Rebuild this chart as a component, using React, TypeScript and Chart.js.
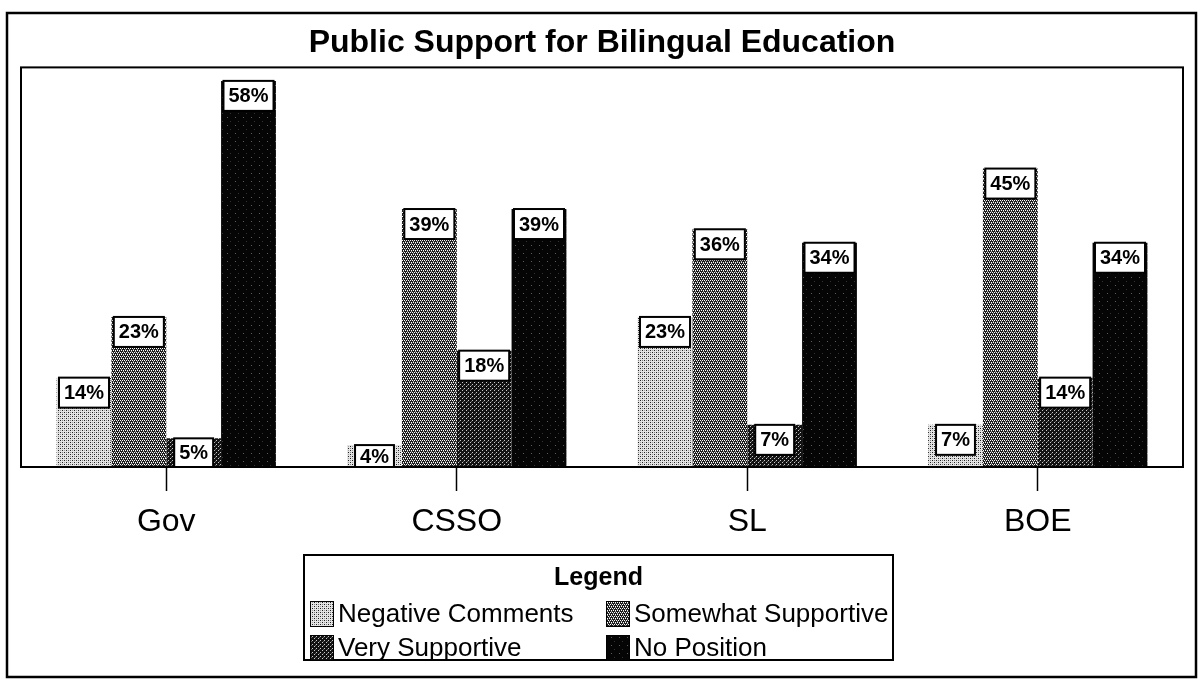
import React, { useEffect, useRef } from "react";
import { Chart, registerables } from "chart.js";

Chart.register(...registerables);

const titleText = "Public Support for Bilingual Education";
const categories = ["Gov", "CSSO", "SL", "BOE"];
const seriesNames = ["Negative Comments", "Somewhat Supportive", "Very Supportive", "No Position"];
const negativeComments = [14, 4, 23, 7];
const somewhatSupportive = [23, 39, 36, 45];
const verySupportive = [5, 18, 7, 14];
const noPosition = [58, 39, 34, 34];
const legendTitle = "Legend";

const FONT = "'Liberation Sans', Arial, Helvetica, sans-serif";

function makePattern(kind: number): CanvasPattern | string {
  const c = document.createElement("canvas");
  const size = kind === 3 ? 8 : 4;
  c.width = size;
  c.height = size;
  const g = c.getContext("2d");
  if (!g) return "#888";
  const px = (x: number, y: number, col: string) => {
    g.fillStyle = col;
    g.fillRect(x, y, 1, 1);
  };
  if (kind === 0) {
    g.fillStyle = "#e4e4e4";
    g.fillRect(0, 0, size, size);
    px(0, 0, "#202020");
    px(2, 2, "#202020");
    px(2, 0, "#808080");
    px(0, 2, "#a0a0a0");
  } else if (kind === 1) {
    g.fillStyle = "#1c1c1c";
    g.fillRect(0, 0, size, size);
    px(0, 0, "#ffffff");
    px(2, 0, "#ffffff");
    px(1, 2, "#ffffff");
    px(3, 2, "#ffffff");
    px(1, 1, "#9a9a9a");
    px(3, 3, "#9a9a9a");
  } else if (kind === 2) {
    g.fillStyle = "#121212";
    g.fillRect(0, 0, size, size);
    px(0, 0, "#c8c8c8");
    px(2, 2, "#c8c8c8");
    px(3, 1, "#606060");
  } else {
    g.fillStyle = "#050505";
    g.fillRect(0, 0, size, size);
    px(3, 5, "#5a5a5a");
    px(6, 1, "#333333");
  }
  const p = g.createPattern(c, "repeat");
  return p || "#888";
}

const framePlugin = {
  id: "frames",
  beforeDraw(chart: any) {
    const { ctx, width, height } = chart;
    ctx.save();
    ctx.fillStyle = "#ffffff";
    ctx.fillRect(0, 0, width, height);
    ctx.restore();
  },
  afterDraw(chart: any) {
    const { ctx, chartArea, width, height } = chart;
    ctx.save();
    ctx.strokeStyle = "#000";
    ctx.lineWidth = 2.5;
    ctx.strokeRect(7, 13, width - 14, height - 21);
    ctx.lineWidth = 2;
    ctx.strokeRect(chartArea.left, chartArea.top, chartArea.right - chartArea.left, chartArea.bottom - chartArea.top);
    ctx.restore();
  },
};

const labelPlugin = {
  id: "valueBoxes",
  afterDatasetsDraw(chart: any) {
    const { ctx, chartArea } = chart;
    ctx.save();
    ctx.font = `bold 20px ${FONT}`;
    ctx.textAlign = "center";
    ctx.textBaseline = "middle";
    chart.data.datasets.forEach((ds: any, di: number) => {
      const meta = chart.getDatasetMeta(di);
      meta.data.forEach((el: any, i: number) => {
        const v = ds.data[i];
        const text = `${v}%`;
        const top = el.y;
        const bottom = Math.min(el.base, chartArea.bottom);
        const h = Math.min(30, bottom - top);
        const tw = ctx.measureText(text).width;
        const w = Math.min(el.width, tw + 10);
        const left = el.x - w / 2;
        ctx.fillStyle = "#fff";
        ctx.fillRect(left, top, w, h);
        ctx.strokeStyle = "#000";
        ctx.lineWidth = 2;
        ctx.strokeRect(left, top, w, h);
        ctx.fillStyle = "#000";
        ctx.fillText(text, el.x, top + h / 2 + 1);
      });
    });
    ctx.restore();
  },
};

const legendPlugin = {
  id: "boxLegend",
  afterDraw(chart: any) {
    const { ctx, width } = chart;
    const boxW = 589;
    const left = Math.round(width / 2 - 3 - boxW / 2);
    const top = 555;
    const boxH = 105;
    ctx.save();
    ctx.fillStyle = "#fff";
    ctx.fillRect(left, top, boxW, boxH);
    ctx.strokeStyle = "#000";
    ctx.lineWidth = 2;
    ctx.strokeRect(left, top, boxW, boxH);
    ctx.fillStyle = "#000";
    ctx.textAlign = "center";
    ctx.textBaseline = "middle";
    ctx.font = `bold 25px ${FONT}`;
    ctx.fillText(legendTitle, left + boxW / 2, top + 23);
    ctx.font = `26px ${FONT}`;
    ctx.textAlign = "left";
    chart.data.datasets.forEach((ds: any, i: number) => {
      const col = i % 2;
      const row = Math.floor(i / 2);
      const sx = left + 6 + col * 296;
      const cy = top + 59 + row * 34;
      ctx.fillStyle = ds.backgroundColor;
      ctx.fillRect(sx, cy - 13, 24, 26);
      ctx.strokeStyle = "#000";
      ctx.lineWidth = 1;
      ctx.strokeRect(sx + 0.5, cy - 12.5, 23, 25);
      ctx.fillStyle = "#000";
      ctx.fillText(ds.label, sx + 28, cy + 1);
    });
    ctx.restore();
  },
};

export default function App() {
  const canvasRef = useRef<HTMLCanvasElement | null>(null);

  useEffect(() => {
    const canvas = canvasRef.current;
    if (!canvas) return;
    const seriesValues = [negativeComments, somewhatSupportive, verySupportive, noPosition];
    const datasets = seriesNames.map((name, i) => ({
      label: name,
      data: seriesValues[i],
      backgroundColor: makePattern(i),
      borderWidth: 0,
      barPercentage: 1,
      categoryPercentage: 0.755,
      clip: 0,
    }));
    const chart = new Chart(canvas, {
      type: "bar",
      data: { labels: categories, datasets: datasets as any },
      options: {
        animation: false,
        responsive: false,
        maintainAspectRatio: false,
        layout: { padding: { left: 21, right: 20, top: 0, bottom: 0 } },
        plugins: {
          legend: { display: false },
          tooltip: { enabled: false },
          title: {
            display: true,
            text: titleText,
            color: "#000",
            font: { family: FONT, size: 32, weight: "bold" },
            padding: { top: 24, bottom: 5 },
          },
        },
        scales: {
          x: {
            offset: true,
            grid: {
              display: true,
              offset: false,
              drawOnChartArea: false,
              drawTicks: true,
              tickLength: 24,
              tickWidth: 1.5,
              tickColor: "#000",
            },
            border: { display: false },
            ticks: {
              color: "#000",
              font: { family: FONT, size: 32 },
              padding: 12,
              maxRotation: 0,
            },
            afterFit: (scale: any) => {
              scale.height = 218;
            },
          },
          y: {
            display: false,
            min: 0.75,
            max: 60,
          },
        },
      },
      plugins: [framePlugin, labelPlugin, legendPlugin],
    });
    return () => chart.destroy();
  }, []);

  return (
    <div style={{ position: "absolute", left: 0, top: 0, width: 1203, height: 685, background: "#fff" }}>
      <canvas ref={canvasRef} width={1203} height={685} style={{ display: "block" }} />
    </div>
  );
}
